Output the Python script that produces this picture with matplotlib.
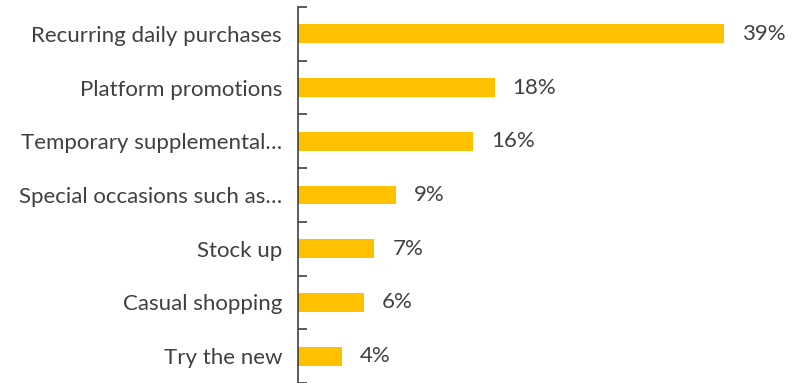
import numpy as np
import matplotlib.pyplot as plt

# purchase occasion shares (%)
categories = ["Recurring daily purchases", "Platform promotions", "Temporary supplemental…",
              "Special occasions such as…", "Stock up", "Casual shopping", "Try the new"]
shares = [39, 18, 16, 9, 7, 6, 4]

BAR_COLOR = "#FFC000"
TEXT_COLOR = "#404040"
plt.rcParams["font.family"] = ["Lato", "DejaVu Sans"]

fig = plt.figure(figsize=(8.01, 3.83), dpi=100)
ax = fig.add_axes([298 / 801, 0, 503 / 801, 1 - 7 / 383])

n = len(categories)
y = np.arange(n)[::-1]
ax.barh(y, shares, height=0.35, color=BAR_COLOR)

for yi, v in zip(y, shares):
    ax.text(v + 1.65, yi, f"{v}%", va="center", ha="left", fontsize=16, color=TEXT_COLOR)

ax.set_xlim(0, 503 / 10.92)
ax.set_ylim(-0.5, n - 0.5)

# boundary ticks on the spine, labels centred on the bars
ax.set_yticks(np.arange(n + 1) - 0.5)
ax.set_yticklabels([])
ax.set_yticks(y, minor=True)
ax.set_yticklabels(categories, minor=True, fontsize=16, color=TEXT_COLOR)
ax.tick_params(axis="y", which="major", direction="in", length=6.5, width=1.2, color=TEXT_COLOR)
ax.tick_params(axis="y", which="minor", length=0, pad=11.5)

ax.set_xticks([])
for s in ["top", "right", "bottom"]:
    ax.spines[s].set_visible(False)
ax.spines["left"].set_color(TEXT_COLOR)
ax.spines["left"].set_linewidth(1.2)

fig.savefig("out.png", dpi=100)
